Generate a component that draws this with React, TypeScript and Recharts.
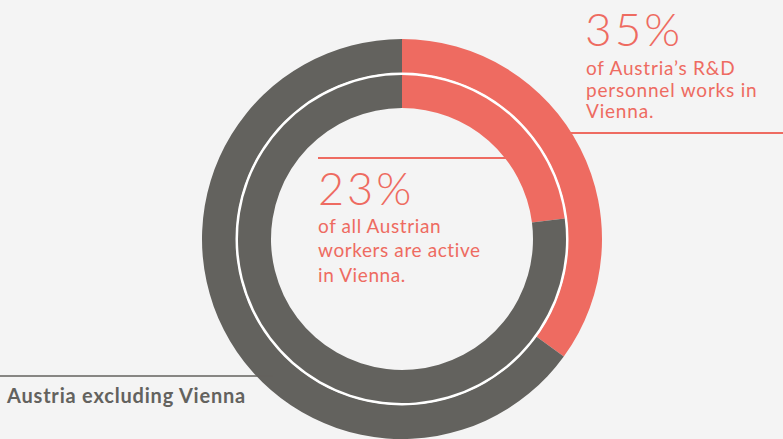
import { PieChart, Pie, Cell } from 'recharts';

const RED = '#ee6b61';
const GRAY = '#63625e';
const BG = '#f4f4f4';

const segments = ['Vienna', 'Austria excluding Vienna'];
const rdPersonnelShare = [35, 65];
const workerShare = [23, 77];
const ringColors = [RED, GRAY];

const rdLines = ["of Austria\u2019s R&D", 'personnel works in', 'Vienna.'];
const workerLines = ['of all Austrian', 'workers are active', 'in Vienna.'];

const toRows = (values: number[]) => values.map((value, i) => ({ name: segments[i], value }));

const FONT = 'Lato, "Open Sans", sans-serif';

export default function App() {
  const outerData = toRows(rdPersonnelShare);
  const innerData = toRows(workerShare);
  const cx = 402;
  const cy = 239;

  return (
    <div style={{ position: 'fixed', left: 0, top: 0, width: 783, height: 439, background: BG, overflow: 'hidden' }}>
      <PieChart width={783} height={439} margin={{ top: 0, right: 0, bottom: 0, left: 0 }}>
        <Pie
          data={outerData}
          dataKey="value"
          cx={cx}
          cy={cy}
          innerRadius={166}
          outerRadius={200}
          startAngle={90}
          endAngle={-270}
          stroke="none"
          isAnimationActive={false}
        >
          {outerData.map((d, i) => (
            <Cell key={d.name} fill={ringColors[i]} />
          ))}
        </Pie>
        <Pie
          data={[{ name: 'gap', value: 1 }]}
          dataKey="value"
          cx={cx}
          cy={cy}
          innerRadius={164}
          outerRadius={166.5}
          startAngle={90}
          endAngle={-270}
          stroke="none"
          fill="#ffffff"
          isAnimationActive={false}
        />
        <Pie
          data={innerData}
          dataKey="value"
          cx={cx}
          cy={cy}
          innerRadius={131}
          outerRadius={164}
          startAngle={90}
          endAngle={-270}
          stroke="none"
          isAnimationActive={false}
        >
          {innerData.map((d, i) => (
            <Cell key={d.name} fill={ringColors[i]} />
          ))}
        </Pie>
      </PieChart>
      <svg width={783} height={439} style={{ position: 'absolute', left: 0, top: 0 }}>
        {/* outer ring annotation */}
        <line x1={555} y1={133} x2={783} y2={133} stroke={RED} strokeWidth={2} />
        <text x={585} y={46} fill={RED} fontFamily={FONT} fontSize={46} fontWeight={300} letterSpacing={3}>35%</text>
        {rdLines.map((t, i) => (
          <text key={t} x={586} y={75 + i * 21.5} fill={RED} fontFamily={FONT} fontSize={19} letterSpacing={0.8}>{t}</text>
        ))}
        {/* inner ring annotation */}
        <line x1={318} y1={158} x2={520} y2={158} stroke={RED} strokeWidth={2} />
        <text x={318} y={205} fill={RED} fontFamily={FONT} fontSize={45} fontWeight={300} letterSpacing={3}>23%</text>
        {workerLines.map((t, i) => (
          <text key={t} x={318} y={233 + i * 24.3} fill={RED} fontFamily={FONT} fontSize={19} letterSpacing={0.6}>{t}</text>
        ))}
        {/* rest of Austria */}
        <line x1={0} y1={376} x2={273} y2={376} stroke={GRAY} strokeWidth={1.5} />
        <text x={7} y={403} fill={GRAY} fontFamily={FONT} fontSize={20} fontWeight={700} letterSpacing={0.8}>Austria excluding Vienna</text>
      </svg>
    </div>
  );
}
